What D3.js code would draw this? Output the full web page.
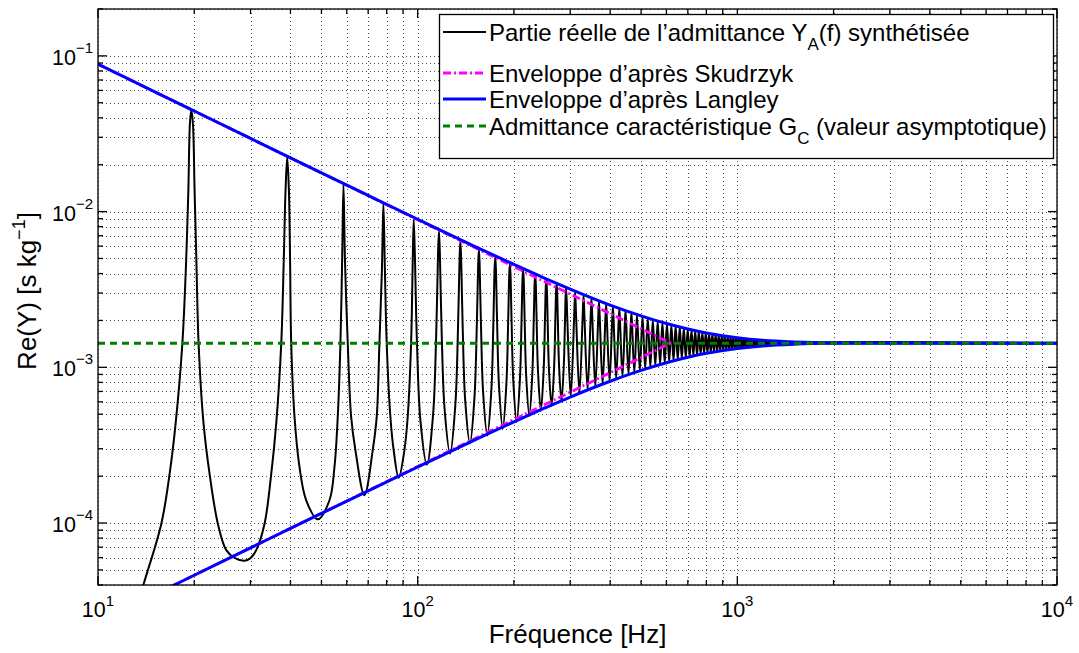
<!DOCTYPE html>
<html><head><meta charset="utf-8">
<script src="https://cdn.jsdelivr.net/npm/d3@7"></script>
<style>
body{margin:0;background:#fff}
svg{display:block;font-family:"Liberation Sans",Arial,Helvetica,sans-serif}
</style>
</head><body>
<svg id="chart" width="1079" height="653"></svg>
<script>
// ---------- DATA ----------
const blackFreq = [
12.5,13.90,15.78,16.75,17.49,18.36,18.89,19.17,19.39,19.58,19.81,20.05,20.30,20.64,21.39,22.34,23.71,25.19,26.75,28.73,30.00,31.26,33.19,34.83,36.10,37.43,38.14,38.61,39.08,
39.55,39.88,40.22,41.19,42.69,44.80,48.70,52.98,54.92,56.23,57.33,58.04,58.60,
59.23,60.44,61.93,63.87,68.15,72.34,74.45,75.91,77.29,78.13,
78.98,80.01,82.17,84.14,87.22,90.87,93.07,95.37,96.40,97.16,
97.93,99.48,102.01,106.87,111.73,114.25,115.80,116.58,
117.36,118.91,121.44,126.30,131.16,133.68,135.23,136.01,
136.79,138.34,140.87,145.73,150.59,153.11,154.66,155.44,
156.22,157.77,160.30,165.16,170.02,172.54,174.09,174.87,
175.65,177.20,179.73,184.59,189.45,191.97,193.52,194.30,
195.08,196.63,199.16,204.02,208.88,211.40,212.95,213.73,
214.51,216.06,218.59,223.45,228.31,230.83,232.38,233.16,
233.94,235.49,238.02,242.88,247.74,250.26,251.81,252.59,
253.37,254.92,257.45,262.31,267.17,269.69,271.24,272.02,
272.80,274.35,276.88,281.74,286.60,289.12,290.67,291.45,
293.78,301.17,308.55,310.88,
313.21,320.60,327.98,330.31,
332.64,340.03,347.41,349.74,
352.07,359.46,366.84,369.17,
371.50,378.89,386.27,388.60,
390.93,398.32,405.70,408.03,
410.36,417.75,425.13,427.46,
429.79,437.18,444.56,446.89,
449.22,456.61,463.99,466.32,
468.65,476.04,483.42,485.75,
495.47,505.18,514.90,524.61,534.33,544.04,553.76,563.47,573.19,582.90,592.62,602.33,612.05,621.76,631.48,641.19,650.91,660.62,670.34,680.05,689.77,699.48,709.20,718.91,728.63,738.34,748.06,757.77,767.49,777.20,786.92,796.63,806.35,816.06,825.78,835.49,845.21,854.92,864.64,874.35,884.07,893.78,903.50,913.21,922.93,932.64,942.36,952.07,961.79,971.50,981.22,990.93,1000.65,1010.36,1020.08,1029.79,1039.51,1049.22,1058.94,1068.65,1078.37,1088.08,1097.80,1107.51,1117.23,1126.94,1136.66,1146.37,1156.09,1165.80,1175.52,1185.23,1194.95,1204.66,1214.38,1224.09,1233.81,1243.52,1253.24,1262.95,1272.67,1282.38,1292.10,1301.81,1311.53,1321.24,1330.96,1340.67,1350.39,1360.10,1369.82,1500,10000];
const blackRe = [
1.95e-5,4.07e-5,9.9e-5,2.07e-4,4.35e-4,1.42e-3,5.13e-3,0.01374,0.0369,0.045,0.0369,0.01374,5.13e-3,1.42e-3,4.35e-4,2.07e-4,9.9e-5,6.70e-5,5.98e-5,5.73e-5,5.95e-5,6.70e-5,9.9e-5,2.07e-4,4.35e-4,1.42e-3,5.13e-3,0.01374,0.0225,
0.01374,5.13e-3,1.42e-3,4.80e-4,2.29e-4,1.40e-4,1.056e-4,1.40e-4,2.29e-4,4.80e-4,1.42e-3,4.90e-3,0.01486,
4.90e-3,1.42e-3,4.80e-4,2.93e-4,1.507e-4,2.93e-4,4.80e-4,1.42e-3,4.22e-3,0.01132,
4.22e-3,1.42e-3,4.80e-4,2.93e-4,1.95e-4,2.93e-4,4.80e-4,1.42e-3,4.22e-3,8.91e-3,
5.62e-3,1.447e-3,4.55e-4,2.37e-4,4.95e-4,1.589e-3,5.35e-3,7.49e-3,
5.33e-3,1.629e-3,5.34e-4,2.79e-4,5.72e-4,1.742e-3,5.02e-3,6.44e-3,
4.99e-3,1.773e-3,6.09e-4,3.24e-4,6.45e-4,1.860e-3,4.68e-3,5.70e-3,
4.66e-3,1.885e-3,6.81e-4,3.65e-4,7.15e-4,1.950e-3,4.37e-3,5.09e-3,
4.35e-3,1.967e-3,7.48e-4,4.06e-4,7.80e-4,2.013e-3,4.09e-3,4.61e-3,
4.07e-3,2.025e-3,8.12e-4,4.46e-4,8.41e-4,2.054e-3,3.83e-3,4.22e-3,
3.81e-3,2.061e-3,8.70e-4,4.88e-4,8.98e-4,2.079e-3,3.60e-3,3.89e-3,
3.59e-3,2.081e-3,9.24e-4,5.26e-4,9.50e-4,2.088e-3,3.40e-3,3.62e-3,
3.39e-3,2.089e-3,9.75e-4,5.64e-4,9.98e-4,2.088e-3,3.22e-3,3.39e-3,
3.21e-3,2.086e-3,1.021e-3,6.03e-4,1.042e-3,2.079e-3,3.06e-3,3.21e-3,
2.077e-3,6.46e-4,2.065e-3,3.04e-3,
2.061e-3,6.81e-4,2.046e-3,2.90e-3,
2.041e-3,7.15e-4,2.025e-3,2.77e-3,
2.019e-3,7.48e-4,2.001e-3,2.65e-3,
1.995e-3,7.80e-4,1.976e-3,2.54e-3,
1.970e-3,8.11e-4,1.951e-3,2.45e-3,
1.945e-3,8.41e-4,1.926e-3,2.37e-3,
1.920e-3,8.70e-4,1.900e-3,2.29e-3,
1.894e-3,8.98e-4,1.876e-3,2.22e-3,
1.870e-3,9.24e-4,1.852e-3,2.16e-3,
9.50e-4,2.125e-3,9.75e-4,2.073e-3,9.98e-4,2.025e-3,1.021e-3,1.982e-3,1.042e-3,1.943e-3,1.063e-3,1.906e-3,1.082e-3,1.873e-3,1.101e-3,1.842e-3,1.119e-3,1.814e-3,1.136e-3,1.787e-3,1.152e-3,1.763e-3,1.168e-3,1.740e-3,1.182e-3,1.720e-3,1.196e-3,1.700e-3,1.209e-3,1.682e-3,1.222e-3,1.666e-3,1.233e-3,1.650e-3,1.245e-3,1.636e-3,1.255e-3,1.623e-3,1.265e-3,1.610e-3,1.275e-3,1.599e-3,1.284e-3,1.588e-3,1.292e-3,1.578e-3,1.300e-3,1.568e-3,1.308e-3,1.559e-3,1.315e-3,1.551e-3,1.322e-3,1.544e-3,1.328e-3,1.536e-3,1.334e-3,1.530e-3,1.340e-3,1.523e-3,1.345e-3,1.518e-3,1.350e-3,1.512e-3,1.355e-3,1.507e-3,1.359e-3,1.502e-3,1.363e-3,1.498e-3,1.367e-3,1.494e-3,1.371e-3,1.490e-3,1.375e-3,1.486e-3,1.378e-3,1.482e-3,1.381e-3,1.479e-3,1.384e-3,1.476e-3,1.387e-3,1.473e-3,1.389e-3,1.471e-3,1.392e-3,1.468e-3,1.394e-3,1.466e-3,1.396e-3,1.43e-3,1.43e-3];

const langleyFreq  = [10,15,20,30,40,50,70,100,150,200,250,300,400,500,600,700,800,1000,1200,1500,2000,3000,5000,10000];
const langleyUpper = [0.0885,0.0590,0.04426,0.02952,0.02215,0.01773,0.0127,8.93e-3,6.01e-3,4.58e-3,3.73e-3,3.18e-3,2.51e-3,2.14e-3,1.910e-3,1.763e-3,1.663e-3,1.548e-3,1.490e-3,1.453e-3,1.4345e-3,1.4302e-3,1.43e-3,1.43e-3];
const langleyLower = [2.31e-5,3.47e-5,4.62e-5,6.93e-5,9.23e-5,1.153e-4,1.61e-4,2.29e-4,3.40e-4,4.47e-4,5.48e-4,6.44e-4,8.14e-4,9.56e-4,1.070e-3,1.160e-3,1.230e-3,1.321e-3,1.372e-3,1.408e-3,1.4255e-3,1.4298e-3,1.43e-3,1.43e-3];

const skudrzykFreq  = [10,619];
const skudrzykUpper = [0.0885,1.43e-3];
const skudrzykLower = [2.31e-5,1.43e-3];

const gcFreq  = [10,10000];
const gcValue = [1.43e-3,1.43e-3];

const xTickValues = [10,100,1000,10000];
const xTickExp    = ["1","2","3","4"];
const yTickValues = [1e-4,1e-3,1e-2,1e-1];
const yTickExp    = ["\u22124","\u22123","\u22122","\u22121"];

const legendLabels = [
  [{t:"Partie r\u00e9elle de l\u2019admittance Y"},{t:"A",sub:true},{t:"(f) synth\u00e9tis\u00e9e"}],
  [{t:"Enveloppe d\u2019apr\u00e8s Skudrzyk"}],
  [{t:"Enveloppe d\u2019apr\u00e8s Langley"}],
  [{t:"Admittance caract\u00e9ristique G"},{t:"C",sub:true},{t:" (valeur asymptotique)"}]
];

// ---------- STYLES ----------
const styles = [
  {color:"#000000", width:2,   dash:null},
  {color:"#ff00ff", width:2.8, dash:"8,3,2,3"},
  {color:"#0000ff", width:3,   dash:null},
  {color:"#008000", width:3,   dash:"7,5"}
];

// ---------- LAYOUT ----------
const L = 98, R = 1057, T = 9, B = 585;
const svg = d3.select("#chart");
const x = d3.scaleLog().domain([10,10000]).range([L,R]);
const y = d3.scaleLog().domain([4e-5,0.2]).range([B,T]);

svg.append("rect").attr("width",1079).attr("height",653).attr("fill","#fff");
svg.append("defs").append("clipPath").attr("id","clip")
  .append("rect").attr("x",L).attr("y",T).attr("width",R-L).attr("height",B-T);

// grid
const gGrid = svg.append("g").attr("stroke","#3a3a3a").attr("stroke-width",0.9).attr("stroke-dasharray","1,3");
x.ticks().forEach(v=>{
  gGrid.append("line").attr("x1",Math.round(x(v))+0.5).attr("x2",Math.round(x(v))+0.5).attr("y1",T).attr("y2",B);
});
y.ticks().forEach(v=>{
  gGrid.append("line").attr("y1",Math.round(y(v))+0.5).attr("y2",Math.round(y(v))+0.5).attr("x1",L).attr("x2",R);
});

const plot = svg.append("g").attr("clip-path","url(#clip)");
const line = d3.line().x(d=>x(d[0])).y(d=>y(d[1])).curve(d3.curveCatmullRom.alpha(0.5));
const smooth = d3.line().x(d=>x(d[0])).y(d=>y(d[1])).curve(d3.curveMonotoneX);
const straight = d3.line().x(d=>x(d[0])).y(d=>y(d[1]));

function draw(fr, vals, st, gen){
  plot.append("path").datum(d3.zip(fr, vals)).attr("d", gen)
    .attr("fill","none").attr("stroke",st.color).attr("stroke-width",st.width)
    .attr("stroke-linejoin","round")
    .attr("stroke-dasharray",st.dash);
}
draw(blackFreq, blackRe, styles[0], line);
draw(skudrzykFreq, skudrzykUpper, styles[1], straight);
draw(skudrzykFreq, skudrzykLower, styles[1], straight);
draw(langleyFreq, langleyUpper, styles[2], smooth);
draw(langleyFreq, langleyLower, styles[2], smooth);
draw(gcFreq, gcValue, styles[3], straight);

// axes box & ticks
const gAx = svg.append("g").attr("stroke","#000").attr("stroke-width",1.3);
gAx.append("rect").attr("x",L).attr("y",T).attr("width",R-L).attr("height",B-T).attr("fill","none");
const isMajor = v => Math.abs(Math.log10(v) - Math.round(Math.log10(v))) < 1e-9;
x.ticks().forEach(v=>{
  const len = isMajor(v) ? 9 : 5, px = x(v);
  gAx.append("line").attr("x1",px).attr("x2",px).attr("y1",B).attr("y2",B-len);
  gAx.append("line").attr("x1",px).attr("x2",px).attr("y1",T).attr("y2",T+len);
});
y.ticks().forEach(v=>{
  const len = isMajor(v) ? 9 : 5, py = y(v);
  gAx.append("line").attr("y1",py).attr("y2",py).attr("x1",L).attr("x2",L+len);
  gAx.append("line").attr("y1",py).attr("y2",py).attr("x1",R).attr("x2",R-len);
});

// tick labels
xTickValues.forEach((v,i)=>{
  const t = svg.append("text").attr("x",x(v)).attr("y",617).attr("text-anchor","middle")
    .attr("font-size",21.5).attr("fill","#000");
  t.append("tspan").text("10");
  t.append("tspan").attr("dy",-11).attr("font-size",15).text(xTickExp[i]);
});
yTickValues.forEach((v,i)=>{
  const t = svg.append("text").attr("x",93).attr("y",y(v)+9).attr("text-anchor","end")
    .attr("font-size",21.5).attr("fill","#000");
  t.append("tspan").text("10");
  t.append("tspan").attr("dy",-12).attr("font-size",15).text(yTickExp[i]);
});

// axis titles
svg.append("text").attr("x",(L+R)/2).attr("y",643).attr("text-anchor","middle")
  .attr("font-size",26).text("Fr\u00e9quence [Hz]");
const yt = svg.append("text").attr("transform","translate(35.5,291) rotate(-90)")
  .attr("text-anchor","middle").attr("font-size",26);
yt.append("tspan").text("Re(Y) [s kg");
yt.append("tspan").attr("dy",-11).attr("font-size",18).text("\u22121");
yt.append("tspan").attr("dy",11).text("]");

// legend
const lg = svg.append("g");
lg.append("rect").attr("x",439.5).attr("y",14.5).attr("width",614).attr("height",144)
  .attr("fill","#fff").attr("stroke","#000").attr("stroke-width",1.3);
const rowY = [32,73,99,126];
legendLabels.forEach((parts,i)=>{
  const st = styles[i], cy = rowY[i];
  lg.append("line").attr("x1",443).attr("x2",486).attr("y1",cy).attr("y2",cy)
    .attr("stroke",st.color).attr("stroke-width",st.width).attr("stroke-dasharray",st.dash);
  const t = lg.append("text").attr("x",489).attr("y",cy+8.5).attr("font-size",24).attr("fill","#000");
  let shifted = false;
  parts.forEach(p=>{
    const ts = t.append("tspan").text(p.t);
    if(p.sub){ ts.attr("dy",9).attr("font-size",17); shifted = true; }
    else if(shifted){ ts.attr("dy",-9); shifted = false; }
  });
});
</script>
</body></html>
